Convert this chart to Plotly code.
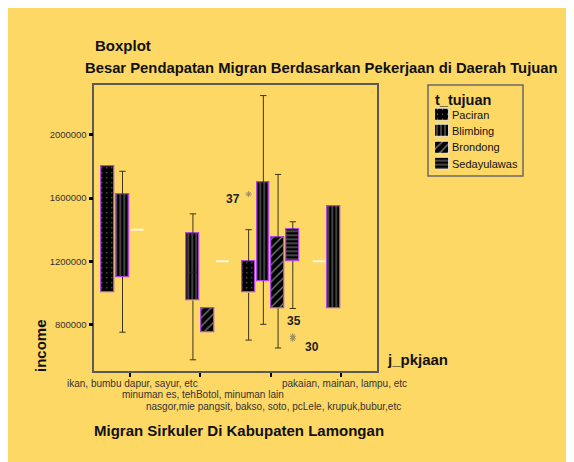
import plotly.graph_objects as go

# ---------------- data ----------------
categories = [
    "ikan, bumbu dapur, sayur, etc",
    "minuman es, tehBotol, minuman lain",
    "nasgor,mie pangsit, bakso, soto, pcLele, krupuk,bubur,etc",
    "pakaian, mainan, lampu, etc",
]
series_names = ["Paciran", "Blimbing", "Brondong", "Sedayulawas"]
y_ticks = [800000, 1200000, 1600000, 2000000]

# five-number summaries per category (None = no cases / not shown)
paciran_lower = [1000000, None, 700000, 1200000]
paciran_q1 = [1000000, None, 1000000, 1200000]
paciran_median = [None, None, None, 1200000]
paciran_q3 = [1800000, None, 1200000, 1200000]
paciran_upper = [1800000, None, 1400000, 1200000]

blimbing_lower = [750000, 575000, 800000, 900000]
blimbing_q1 = [1100000, 950000, 1075000, 900000]
blimbing_median = [None, 1130000, None, None]
blimbing_q3 = [1625000, 1375000, 1700000, 1550000]
blimbing_upper = [1770000, 1500000, 2250000, 1550000]

brondong_lower = [1400000, 750000, 650000, None]
brondong_q1 = [1400000, 750000, 900000, None]
brondong_median = [1400000, None, None, None]
brondong_q3 = [1400000, 900000, 1350000, None]
brondong_upper = [1400000, 900000, 1750000, None]

sedayulawas_lower = [None, 1200000, 900000, None]
sedayulawas_q1 = [None, 1200000, 1200000, None]
sedayulawas_median = [None, 1200000, None, None]
sedayulawas_q3 = [None, 1200000, 1400000, None]
sedayulawas_upper = [None, 1200000, 1450000, None]

outlier_category = [2, 2, 2]
outlier_series = ["Paciran", "Sedayulawas", "Sedayulawas"]
outlier_value = [1625000, 724000, 708000]
outlier_label = ["37", "35", "30"]

# ---------------- style ----------------
W, H = 574, 462
OFF = 8  # page body margin
PAD = 2  # annotation inner padding compensation
BG = "#FED865"
SLOT = 0.209
BOX_W = 0.18
CAP = 0.045
pattern_shapes = {"Paciran": ".", "Blimbing": "|", "Brondong": "/", "Sedayulawas": "-"}
pattern_sizes = {"Paciran": 5, "Blimbing": 4, "Brondong": 6, "Sedayulawas": 4}
pattern_solid = {"Paciran": 0.06, "Blimbing": 0.25, "Brondong": 0.22, "Sedayulawas": 0.27}
label_shift = {"37": (-16, -5), "35": (1, 15), "30": (19, -8)}


def fx(px):
    return (px - OFF) / W


def fy(py):
    return 1 - (py - OFF) / H


stats = {
    "Paciran": (paciran_lower, paciran_q1, paciran_median, paciran_q3, paciran_upper),
    "Blimbing": (blimbing_lower, blimbing_q1, blimbing_median, blimbing_q3, blimbing_upper),
    "Brondong": (brondong_lower, brondong_q1, brondong_median, brondong_q3, brondong_upper),
    "Sedayulawas": (sedayulawas_lower, sedayulawas_q1, sedayulawas_median,
                    sedayulawas_q3, sedayulawas_upper),
}

fig = go.Figure()

for s, name in enumerate(series_names):
    lo, q1, med, q3, hi = stats[name]
    off = (s - 1.5) * SLOT
    xs = [i + off for i in range(len(categories))]
    base, height = [], []
    for a, b in zip(q1, q3):
        if a is None or b is None or b == a:
            base.append(None)
            height.append(None)
        else:
            base.append(a)
            height.append(b - a)
    fig.add_trace(go.Bar(
        x=xs, y=height, base=base, width=BOX_W, name=name, showlegend=False,
        marker=dict(color="black",
                    line=dict(color="#B048E0", width=1.3),
                    pattern=dict(shape=pattern_shapes[name], fgcolor="white",
                                 bgcolor="black", size=pattern_sizes[name],
                                 solidity=pattern_solid[name])),
        hoverinfo="skip",
    ))
    # whiskers
    wx, wy = [], []
    for x, l, a, b, h in zip(xs, lo, q1, q3, hi):
        if a is None:
            continue
        if h > b:
            wx += [x, x, None, x - CAP, x + CAP, None]
            wy += [b, h, None, h, h, None]
        if l < a:
            wx += [x, x, None, x - CAP, x + CAP, None]
            wy += [a, l, None, l, l, None]
    fig.add_trace(go.Scatter(x=wx, y=wy, mode="lines", showlegend=False,
                             line=dict(color="#3a3320", width=1), hoverinfo="skip"))
    # medians
    mx_box, my_box, mx_one, my_one = [], [], [], []
    for x, a, m, b in zip(xs, q1, med, q3):
        if m is None:
            continue
        if b == a:
            mx_one += [x - BOX_W / 2, x + BOX_W / 2, None]
            my_one += [m, m, None]
        else:
            mx_box += [x - BOX_W / 2 + 0.03, x + BOX_W / 2 - 0.03, None]
            my_box += [m, m, None]
    fig.add_trace(go.Scatter(x=mx_box, y=my_box, mode="lines", showlegend=False,
                             line=dict(color="#222222", width=1), hoverinfo="skip"))
    fig.add_trace(go.Scatter(x=mx_one, y=my_one, mode="lines", showlegend=False,
                             line=dict(color="#FFF6DC", width=2), hoverinfo="skip"))

# outliers
ox = [c + (series_names.index(sn) - 1.5) * SLOT for c, sn in zip(outlier_category, outlier_series)]
fig.add_trace(go.Scatter(x=ox, y=outlier_value, mode="markers", showlegend=False,
                         marker=dict(symbol="asterisk-open", size=5, color="#9a8a60",
                                     line=dict(color="#9a8a60", width=1)),
                         hoverinfo="skip"))
for x, v, lab in zip(ox, outlier_value, outlier_label):
    dx, dy = label_shift[lab]
    fig.add_annotation(x=x, y=v, text="<b>" + lab + "</b>", showarrow=False,
                       xshift=dx, yshift=dy,
                       font=dict(family="Liberation Sans", size=12, color="#222222"))

# category labels (staggered rows)
for i, lab in enumerate(categories):
    row = i if i < 3 else 0
    fig.add_annotation(x=i, y=fy(383 + 11.5 * row), xref="x", yref="paper", text=lab,
                       showarrow=False, xshift=3, yanchor="middle",
                       font=dict(family="Liberation Sans", size=10, color="#333333"))

# titles
texts = [
    ("<b>Boxplot</b>", 94.5 - PAD, 45, "left", 15, 0),
    ("<b>Besar Pendapatan Migran Berdasarkan Pekerjaan di Daerah Tujuan</b>", 321.5, 68, "center", 14.8, 0),
    ("<b>j_pkjaan</b>", 386.5 - PAD, 359, "left", 15, 0),
    ("<b>Migran Sirkuler Di Kabupaten Lamongan</b>", 239, 430, "center", 15, 0),
    ("<b>income</b>", 40, 346, "center", 15, -90),
]
for t, x, y, xa, fs, ang in texts:
    fig.add_annotation(x=fx(x), y=fy(y), xref="paper", yref="paper", text=t,
                       showarrow=False, xanchor=xa, yanchor="middle", textangle=ang,
                       font=dict(family="Liberation Sans", size=fs, color="#111111"))

# ---------------- legend (drawn by hand) ----------------
fig.add_shape(type="rect", xref="paper", yref="paper", x0=fx(428), x1=fx(523),
              y0=fy(176), y1=fy(85), fillcolor=BG,
              line=dict(color="#6a6a6a", width=1.5), layer="below")
fig.add_annotation(x=fx(435 - PAD), y=fy(100.5), xref="paper", yref="paper",
                   text="<b>t_tujuan</b>", showarrow=False, xanchor="left",
                   yanchor="middle",
                   font=dict(family="Liberation Sans", size=14.5, color="#111111"))
for s, name in enumerate(series_names):
    fig.add_trace(go.Bar(
        x=[1], y=[s], base=[0], orientation="h", width=0.74, xaxis="x2", yaxis="y2",
        showlegend=False, hoverinfo="skip",
        marker=dict(color="black", line=dict(color="white", width=0.8),
                    pattern=dict(shape=pattern_shapes[name], fgcolor="white",
                                 bgcolor="black", size=pattern_sizes[name],
                                 solidity=pattern_solid[name])),
    ))
legend_y0, legend_step = 114.8, 16.3
for s, name in enumerate(series_names):
    fig.add_annotation(x=fx(452 - PAD), y=fy(legend_y0 + legend_step * s), xref="paper",
                       yref="paper", text=name, showarrow=False, xanchor="left",
                       yanchor="middle",
                       font=dict(family="Liberation Sans", size=11, color="#111111"))

fig.update_layout(
    width=W, height=H, margin=dict(l=0, r=0, t=0, b=0, pad=0, autoexpand=False),
    paper_bgcolor=BG, plot_bgcolor=BG, barmode="overlay", bargap=0,
    font=dict(family="Liberation Sans", color="#222222"),
    showlegend=False,
    xaxis=dict(domain=[fx(94.3), fx(376.7)], range=[-0.505, 3.505],
               tickvals=list(range(len(categories))), showticklabels=False,
               ticks="outside", ticklen=4, tickwidth=2, tickcolor="black",
               showline=True, linecolor="#5a5a5a", linewidth=1.5, mirror=True,
               showgrid=False, zeroline=False, fixedrange=True),
    yaxis=dict(domain=[fy(371), fy(85.3)], range=[504000, 2315000], tickvals=y_ticks,
               tickformat="d", ticks="outside", ticklen=4, tickwidth=2.5,
               tickcolor="black", tickfont=dict(size=9.5, color="#333333"),
               showline=True, linecolor="#5a5a5a", linewidth=1.5, mirror=True,
               showgrid=False, zeroline=False, fixedrange=True),
    xaxis2=dict(domain=[fx(435), fx(449.3)], range=[0, 1], anchor="y2", visible=False,
                fixedrange=True),
    yaxis2=dict(domain=[fy(legend_y0 + legend_step * 3.5), fy(legend_y0 - legend_step * 0.5)],
                range=[3.5, -0.5], anchor="x2", visible=False, fixedrange=True),
)

fig.write_html("out.html")
